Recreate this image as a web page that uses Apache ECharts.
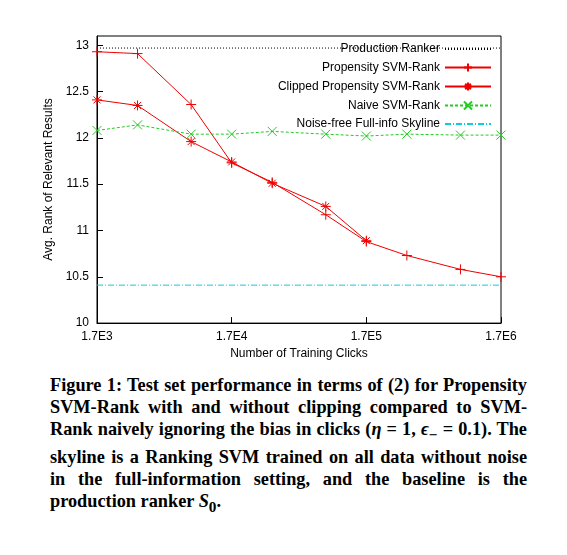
<!DOCTYPE html>
<html>
<head>
<meta charset="utf-8">
<script src="https://cdn.jsdelivr.net/npm/echarts@6/dist/echarts.min.js"></script>
<style>
body { margin: 0; background: #fff; }
#chart { width: 567px; height: 365px; }
#cap { position: absolute; left: 50px; top: 374px; width: 477px; font-family: "Liberation Serif", serif; font-weight: bold; font-size: 18.3px; line-height: 22px; text-align: justify; color: #000; }
</style>
</head>
<body>
<div id="chart"></div>
<div id="cap">Figure 1: Test set performance in terms of (2) for Propensity SVM-Rank with and without clipping compared to SVM-Rank naively ignoring the bias in clicks (<i>η</i> = 1, <i>ϵ</i><sub>−</sub> = 0.1). The skyline is a Ranking SVM trained on all data without noise in the full-information setting, and the baseline is the production ranker <i>S</i><sub>0</sub>.</div>
<script>
var trainingClicks = [1700, 3400, 8500, 17000, 34000, 85000, 170000, 340000, 850000, 1700000];
var propensity = [12.93, 12.91, 12.36, 11.73, 11.52, 11.17, 10.88, 10.73, 10.58, 10.50];
var clipped = [12.41, 12.35, 11.96, 11.74, 11.51, 11.26, 10.89];
var naive = [12.08, 12.14, 12.04, 12.04, 12.07, 12.04, 12.02, 12.04, 12.03, 12.03];
var production = 12.97;
var skyline = 10.41;

var xs = trainingClicks.map(function (c) { return Math.log10(c / 1700); });
function pts(vals) { return vals.map(function (v, i) { return [xs[i], v]; }); }
function flat(v) { return [[0, v], [3, v]]; }

var plus = 'path://M0,5L10,5M5,0L5,10';
var star = 'path://M0,5L10,5M5,0L5,10M1.5,1.5L8.5,8.5M1.5,8.5L8.5,1.5';
var cross = 'path://M0,0L10,10M0,10L10,0';

var chart = echarts.init(document.getElementById('chart'));
chart.setOption({
  animation: false,
  textStyle: { fontFamily: 'Liberation Sans, sans-serif' },
  grid: { left: 97, right: 66, top: 36, bottom: 40, show: true, borderColor: '#000', borderWidth: 1 },
  xAxis: {
    type: 'value', min: 0, max: 3, interval: 1,
    name: 'Number of Training Clicks', nameLocation: 'middle', nameGap: 22,
    nameTextStyle: { color: '#000', fontSize: 12 },
    axisLine: { lineStyle: { color: '#000' } },
    axisTick: { inside: true, length: 6, lineStyle: { color: '#000' } },
    axisLabel: { color: '#000', fontSize: 12, formatter: function (v) { return '1.7E' + (3 + v); } },
    splitLine: { show: false }
  },
  yAxis: {
    type: 'value', min: 10, max: 13.1, interval: 0.5,
    name: 'Avg. Rank of Relevant Results', nameLocation: 'middle', nameGap: 40,
    nameTextStyle: { color: '#000', fontSize: 12 },
    axisLine: { show: true, lineStyle: { color: '#000' } },
    axisTick: { inside: true, length: 6, lineStyle: { color: '#000' } },
    axisLabel: { color: '#000', fontSize: 12, showMaxLabel: false },
    splitLine: { show: false }
  },
  legend: {
    orient: 'vertical', right: 70, top: 38, align: 'right',
    itemWidth: 46, itemHeight: 10, itemGap: 6,
    textStyle: { color: '#000', fontSize: 12 },
    data: [
      { name: 'Production Ranker', itemStyle: { opacity: 0 } },
      'Propensity SVM-Rank', 'Clipped Propensity SVM-Rank', 'Naive SVM-Rank',
      { name: 'Noise-free Full-info Skyline', itemStyle: { opacity: 0 } }
    ]
  },
  series: [
    { name: 'Production Ranker', type: 'line', data: flat(production), showSymbol: false, symbol: 'none',
      lineStyle: { color: '#000', width: 1, type: [1, 2] }, itemStyle: { color: '#000' } },
    { name: 'Propensity SVM-Rank', type: 'line', data: pts(propensity), symbol: plus, symbolSize: 10,
      lineStyle: { color: '#e00', width: 1 }, itemStyle: { color: 'none', borderColor: '#e00', borderWidth: 1 } },
    { name: 'Clipped Propensity SVM-Rank', type: 'line', data: pts(clipped), symbol: star, symbolSize: 10,
      lineStyle: { color: '#e00', width: 1 }, itemStyle: { color: 'none', borderColor: '#e00', borderWidth: 1 } },
    { name: 'Naive SVM-Rank', type: 'line', data: pts(naive), symbol: cross, symbolSize: 9,
      lineStyle: { color: '#2c2', width: 1, type: [3, 2] }, itemStyle: { color: 'none', borderColor: '#2c2', borderWidth: 1 } },
    { name: 'Noise-free Full-info Skyline', type: 'line', data: flat(skyline), symbol: 'none',
      lineStyle: { color: '#1cd', width: 1, type: [6, 2, 1, 2] }, itemStyle: { color: '#1cd' } }
  ]
});
</script>
</body>
</html>
